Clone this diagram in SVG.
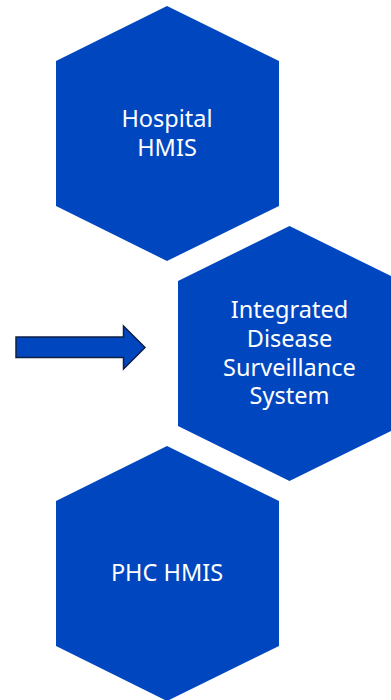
<svg xmlns="http://www.w3.org/2000/svg" width="391" height="700" viewBox="0 0 391 700">
<style>
.hex{fill:#0047BF}
.t{fill:#fff;font-family:"Noto Sans","Open Sans",sans-serif;font-size:23.5px;text-anchor:middle}
.arrow{fill:#0047BF;stroke:#0f1f45;stroke-width:1.5}
</style>
<rect width="391" height="700" fill="#fff"/>
<g id="hospital-hmis">
<polygon class="hex" points="167,6 279,61 279,206 167,261 56,206 56,61"/>
<text class="t" x="167" y="127">Hospital</text>
<text class="t" x="167" y="156">HMIS</text>
</g>
<g id="idss">
<polygon class="hex" points="289.5,226 401,281 401,426 289.5,481 178,426 178,281"/>
<text class="t" x="289.5" y="318">Integrated</text>
<text class="t" x="289.5" y="347">Disease</text>
<text class="t" x="289.5" y="376">Surveillance</text>
<text class="t" x="289.5" y="404">System</text>
</g>
<g id="phc-hmis">
<polygon class="hex" points="167,446 279,501 279,646 167,701 56,646 56,501"/>
<text class="t" x="167" y="581">PHC HMIS</text>
</g>
<g id="connectors">
<polygon class="arrow" points="16,337 123.5,337 123.5,326 145,347.5 123.5,369 123.5,357.5 16,357.5"/>
</g>
</svg>
